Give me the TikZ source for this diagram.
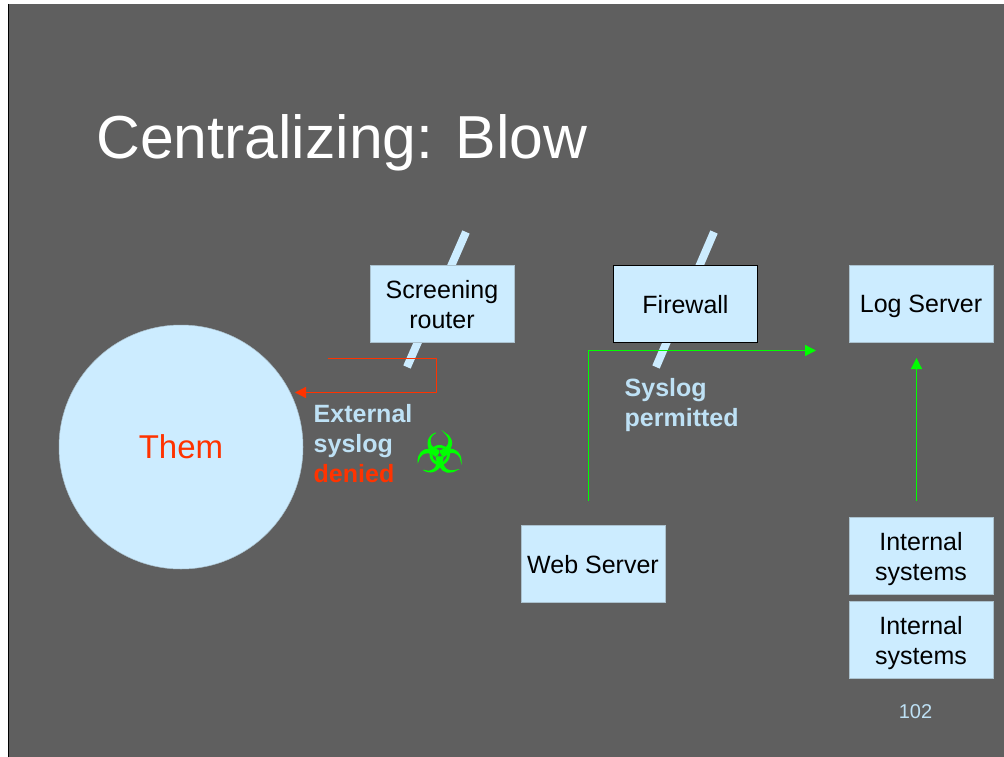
\documentclass[tikz,border=0pt]{standalone}
\usepackage{xcolor}
\usepackage{fontspec}
\setmainfont{Liberation Sans}
\newfontfamily\symbolfont[FakeBold=1.6]{DejaVu Sans}
\usepackage{tikz}
\usetikzlibrary{arrows.meta}
\definecolor{slidegrey}{RGB}{95,95,95}
\definecolor{paleblue}{RGB}{204,236,255}
\definecolor{labelblue}{RGB}{190,225,245}
\definecolor{alertred}{RGB}{255,51,0}
\definecolor{signalgreen}{RGB}{0,255,0}

\begin{document}
\begin{tikzpicture}[x=1pt,y=-1pt,box/.style ={rectangle ,fill=paleblue ,draw=paleblue!70!slidegrey ,line width=.5pt ,minimum width=143.5pt ,minimum height=77pt ,align=center ,text=black ,font=\fontsize{25}{30}\selectfont ,inner sep=0pt ,text depth=0pt},slash/.style ={paleblue ,line width=8pt},note/.style ={text=labelblue ,font=\fontsize{25}{30}\selectfont\bfseries ,align=left ,inner sep=0pt},link/.style ={line width=1.2pt ,line join=round ,-{Triangle[length=11pt,width=11pt]}}]
\useasboundingbox (0,0) rectangle (1004,757);
\fill[white] (0,0) rectangle (1004,757);
\fill[slidegrey] (8,4) rectangle (1004,757);
\draw[black,line width=1.5pt] (8.5,4) -- (8.5,757);
% slashes behind the boxes
\coordinate (routertop) at (466,232);
\coordinate (routerbot) at (407,367);
\coordinate (walltop) at (714,232);
\coordinate (wallbot) at (656,367);
\draw[slash] (routertop) -- (routerbot);
\draw[slash] (walltop) -- (wallbot);
\node[anchor=west,text=white,font=\fontsize{60.7}{64}\selectfont,inner sep=0pt] (title) at (96,142.5) {Centralizing: Blow};
\node[circle,fill=paleblue,draw=paleblue!70!slidegrey,line width=.5pt,minimum size=244pt,inner sep=0pt,text=alertred,font=\fontsize{33}{36}\selectfont] (them) at (181,447) {\raisebox{-1pt}{Them}};
\node[box] (router) at (442,304) {Screening\\router};
\node[box,draw=black,line width=1pt] (firewall) at (685.5,304) {Firewall};
\node[box] (logserver) at (921,304) {Log Server};
\node[box] (webserver) at (593,564) {Web Server};
\node[box] (internala) at (921,556) {Internal\\systems};
\node[box] (internalb) at (921,640) {Internal\\systems};
\node[note,anchor=north west] (external) at (313.5,404) {External\\syslog\\\textcolor{alertred}{denied}};
\node[note,anchor=north west] (permitted) at (624.5,378) {Syslog\\permitted};
\node[text=signalgreen,font=\fontsize{54}{54}\selectfont\symbolfont,inner sep=0pt] (hazard) at (439.5,452.5) {☣};
\node[text=labelblue,font=\fontsize{20}{24}\selectfont,inner sep=0pt] (page) at (915.5,711.5) {102};
% connectors
\coordinate (deniedstart) at (328,358.5);
\coordinate (deniedbend) at (436.5,358.5);
\coordinate (deniedlow) at (436.5,392.5);
\coordinate (deniedend) at (295,392.5);
\draw[link,alertred] (deniedstart) -- (deniedbend) -- (deniedlow) -- (deniedend);
\coordinate (webstart) at (588.5,501);
\coordinate (webbend) at (588.5,350.5);
\coordinate (webend) at (816,350.5);
\draw[link,signalgreen] (webstart) -- (webbend) -- (webend);
\coordinate (sysstart) at (916.5,501);
\coordinate (sysend) at (916.5,358);
\draw[link,signalgreen] (sysstart) -- (sysend);
\end{tikzpicture}
\end{document}
